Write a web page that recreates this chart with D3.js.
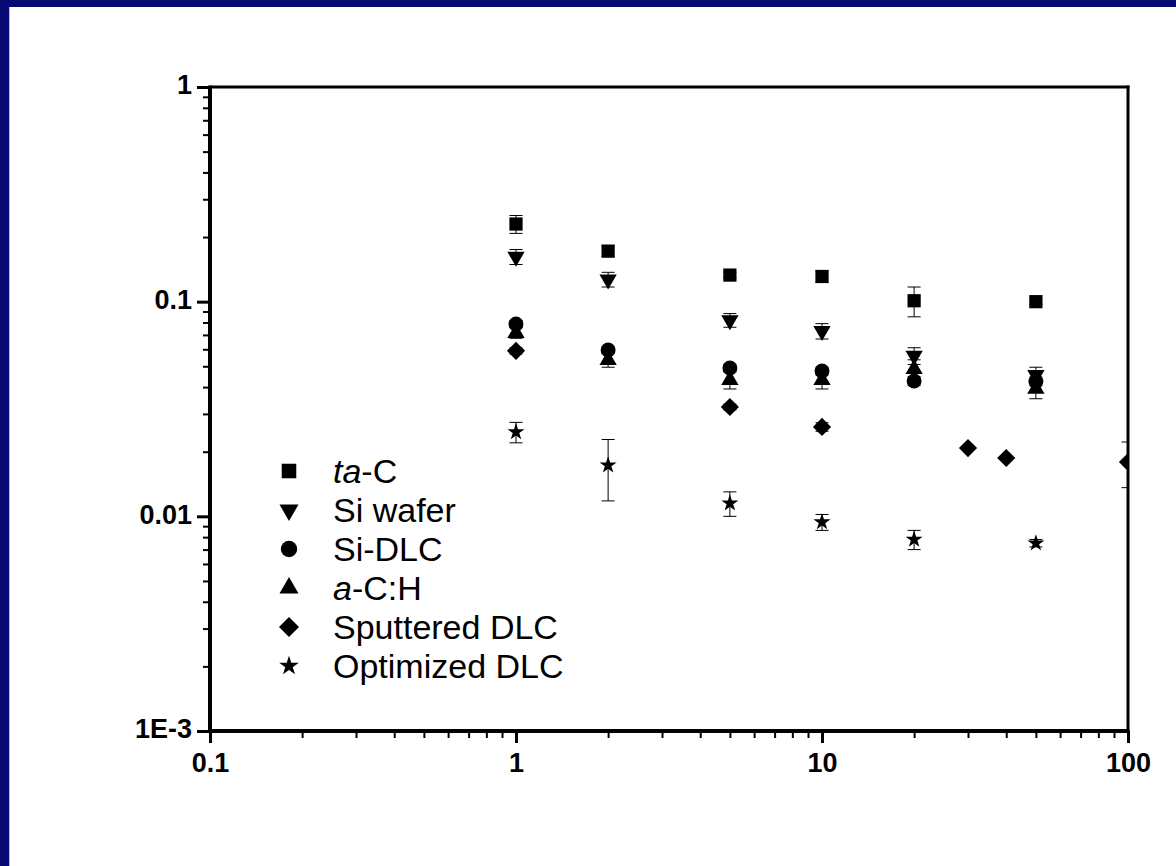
<!DOCTYPE html>
<html>
<head>
<meta charset="utf-8">
<script src="https://d3js.org/d3.v7.min.js"></script>
<style>
  html, body { margin: 0; padding: 0; background: #fff; }
  svg { display: block; }
  text { font-family: "Liberation Sans", Arial, sans-serif; fill: #000; }
</style>
</head>
<body>
<svg id="chart" width="1176" height="866"></svg>
<script>
// ---- data ----
const seriesNames = ["ta-C", "Si wafer", "Si-DLC", "a-C:H", "Sputtered DLC", "Optimized DLC"];

const taC_x = [1, 2, 5, 10, 20, 50];
const taC_y = [0.230, 0.172, 0.133, 0.131, 0.101, 0.100];
const taC_err = [0.022, 0.010, 0.004, 0.008, 0.016, 0.003];

const siWafer_x = [1, 2, 5, 10, 20, 50];
const siWafer_y = [0.162, 0.127, 0.082, 0.073, 0.056, 0.0455];
const siWafer_err = [0.013, 0.010, 0.006, 0.006, 0.005, 0.004];

const siDLC_x = [1, 2, 5, 10, 20, 50];
const siDLC_y = [0.0787, 0.0596, 0.0491, 0.0475, 0.0427, 0.0425];
const siDLC_err = [0.003, 0.002, 0.002, 0.002, 0.002, 0.002];

const aCH_x = [1, 2, 5, 10, 20, 50];
const aCH_y = [0.0715, 0.0535, 0.0432, 0.0432, 0.0486, 0.0393];
const aCH_err = [0.004, 0.004, 0.004, 0.004, 0.005, 0.004];

const sputt_x = [1, 5, 10, 30, 40, 100];
const sputt_y = [0.059, 0.0323, 0.0261, 0.0208, 0.0187, 0.0179];
const sputt_err = [0.002, 0.001, 0.0012, 0, 0, 0.0043];

const optim_x = [1, 2, 5, 10, 20, 50];
const optim_y = [0.0247, 0.0173, 0.0115, 0.0094, 0.0078, 0.0075];
const optim_err = [0.0027, 0.0055, 0.0015, 0.0008, 0.0008, 0.0003];

const xTicks = [0.1, 1, 10, 100];
const xTickLabels = ["0.1", "1", "10", "100"];
const yTicks = [0.001, 0.01, 0.1, 1];
const yTickLabels = ["1E-3", "0.01", "0.1", "1"];

// ---- layout ----
const W = 1176, H = 866;
const L = 210, R = 1128, T = 87, B = 731;

const svg = d3.select("#chart");

// navy frame
svg.append("rect").attr("width", W).attr("height", H).attr("fill", "#060a72");
svg.append("rect").attr("x", 9).attr("y", 7).attr("width", W - 9).attr("height", H - 7).attr("fill", "#b4b4ec");
svg.append("rect").attr("x", 10).attr("y", 7).attr("width", W - 10).attr("height", H - 7).attr("fill", "#fff");

const x = d3.scaleLog().domain([0.1, 100]).range([L, R]);
const y = d3.scaleLog().domain([0.001, 1]).range([B, T]);

// minor tick values for each decade
function minors(lo, hi) {
  const out = [];
  for (let d = lo; d < hi; d *= 10) for (let k = 2; k <= 9; k++) out.push(d * k);
  return out;
}

// clip
svg.append("clipPath").attr("id", "clip")
  .append("rect").attr("x", L).attr("y", T).attr("width", R - L).attr("height", B - T);

const series = [
  { xs: taC_x, ys: taC_y, es: taC_err, sym: "square" },
  { xs: siWafer_x, ys: siWafer_y, es: siWafer_err, sym: "tridown" },
  { xs: siDLC_x, ys: siDLC_y, es: siDLC_err, sym: "circle" },
  { xs: aCH_x, ys: aCH_y, es: aCH_err, sym: "triup" },
  { xs: sputt_x, ys: sputt_y, es: sputt_err, sym: "diamond" },
  { xs: optim_x, ys: optim_y, es: optim_err, sym: "star" }
];

function symPath(kind, scale) {
  const s = scale || 1;
  switch (kind) {
    case "square": return d3.symbol(d3.symbolSquare, 175 * s * s)();
    case "tridown":
    case "triup": return d3.symbol(d3.symbolTriangle, 130 * s * s)();
    case "circle": return d3.symbol(d3.symbolCircle, 175 * s * s)();
    case "diamond": return d3.symbol(d3.symbolSquare, 165 * s * s)();
    case "star": return d3.symbol(d3.symbolStar, 90 * s * s)();
  }
}
function symRot(kind) {
  if (kind === "tridown") return 180;
  if (kind === "diamond") return 45;
  return 0;
}

const plot = svg.append("g").attr("clip-path", "url(#clip)");

series.forEach(s => {
  const pts = s.xs.map((v, i) => ({ x: v, y: s.ys[i], e: s.es[i] }));
  const eb = plot.append("g").attr("stroke", "#000").attr("stroke-width", 1).attr("fill", "none");
  pts.filter(d => d.e > 0).forEach(d => {
    const cx = x(d.x), y1 = y(d.y + d.e), y0 = y(d.y - d.e);
    eb.append("line").attr("x1", cx).attr("x2", cx).attr("y1", y1).attr("y2", y0);
    eb.append("line").attr("x1", cx - 6.5).attr("x2", cx + 6.5).attr("y1", y1).attr("y2", y1);
    eb.append("line").attr("x1", cx - 6.5).attr("x2", cx + 6.5).attr("y1", y0).attr("y2", y0);
  });
  plot.append("g").selectAll("path").data(pts).join("path")
    .attr("d", symPath(s.sym))
    .attr("transform", d => `translate(${x(d.x)},${y(d.y)}) rotate(${symRot(s.sym)})`)
    .attr("fill", "#000");
});

// ---- axes ----
const gx = svg.append("g").attr("transform", `translate(0,${B})`);
gx.call(d3.axisBottom(x).tickValues(minors(0.1, 100)).tickSize(7).tickSizeOuter(0).tickFormat(""));
gx.call(g => g.selectAll(".tick line").attr("stroke-width", 2));
const gx2 = svg.append("g").attr("transform", `translate(0,${B})`);
gx2.call(d3.axisBottom(x).tickValues(xTicks).tickSize(12).tickSizeOuter(0)
  .tickFormat((d, i) => xTickLabels[i]).tickPadding(10));
gx2.selectAll(".tick line").attr("stroke-width", 3);
gx2.selectAll(".tick text").attr("font-size", 27).attr("font-weight", "bold")
  .attr("font-family", "Liberation Sans, Arial, sans-serif");

const gy = svg.append("g").attr("transform", `translate(${L},0)`);
gy.call(d3.axisLeft(y).tickValues(minors(0.001, 1)).tickSize(7).tickSizeOuter(0).tickFormat(""));
gy.call(g => g.selectAll(".tick line").attr("stroke-width", 2));
const gy2 = svg.append("g").attr("transform", `translate(${L},0)`);
gy2.call(d3.axisLeft(y).tickValues(yTicks).tickSize(13).tickSizeOuter(0)
  .tickFormat((d, i) => yTickLabels[i]).tickPadding(5));
gy2.selectAll(".tick line").attr("stroke-width", 3);
gy2.selectAll(".tick text").attr("font-size", 27).attr("font-weight", "bold").attr("dy", "0.25em")
  .attr("font-family", "Liberation Sans, Arial, sans-serif");

[gx, gx2, gy, gy2].forEach(g => g.select(".domain").remove());

// frame lines
svg.append("line").attr("x1", L).attr("x2", R + 1.5).attr("y1", B).attr("y2", B).attr("stroke", "#000").attr("stroke-width", 4);
svg.append("line").attr("x1", L).attr("x2", L).attr("y1", T - 1.5).attr("y2", B + 2).attr("stroke", "#000").attr("stroke-width", 4);
svg.append("line").attr("x1", L).attr("x2", R + 1.5).attr("y1", T).attr("y2", T).attr("stroke", "#000").attr("stroke-width", 3);
svg.append("line").attr("x1", R).attr("x2", R).attr("y1", T - 1.5).attr("y2", B).attr("stroke", "#000").attr("stroke-width", 3);

// ---- legend ----
const lg = svg.append("g");
series.forEach((s, i) => {
  const cy = 471 + i * 39;
  lg.append("path").attr("d", symPath(s.sym, s.sym === "star" ? 1.15 : 1.1))
    .attr("transform", `translate(289,${cy}) rotate(${symRot(s.sym)})`).attr("fill", "#000");
  const t = lg.append("text").attr("x", 333).attr("y", cy + 12).attr("font-size", 34);
  const name = seriesNames[i];
  if (name === "ta-C") {
    t.append("tspan").attr("font-style", "italic").text("ta");
    t.append("tspan").text("-C");
  } else if (name === "a-C:H") {
    t.append("tspan").attr("font-style", "italic").text("a");
    t.append("tspan").text("-C:H");
  } else {
    t.text(name);
  }
});
</script>
</body>
</html>
